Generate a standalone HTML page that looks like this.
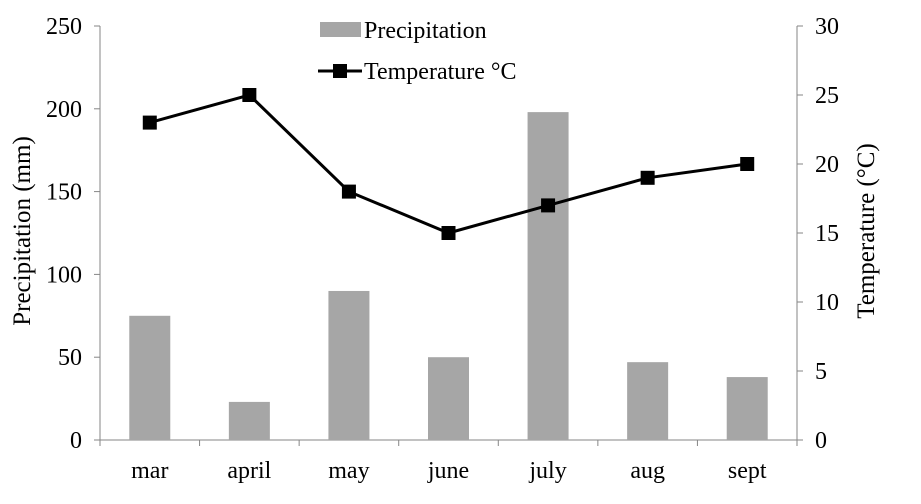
<!DOCTYPE html>
<html><head><meta charset="utf-8"><style>
body{margin:0;background:#fff}
svg text{font-family:"Liberation Serif",serif;fill:#000}
</style></head><body>
<svg id="chart" width="921" height="499" xmlns="http://www.w3.org/2000/svg">
<g id="axes"></g><g id="bars"></g><g id="line"></g>
<g>
<rect x="320" y="22" width="41" height="15" fill="#a6a6a6"/>
<text x="364" y="38" font-size="24">Precipitation</text>
<line x1="318" y1="71" x2="362" y2="71" stroke="#000" stroke-width="3"/>
<rect x="333" y="64" width="14" height="14" fill="#000"/>
<text x="364" y="79" font-size="24">Temperature °C</text>
</g>
<text transform="translate(30,231) rotate(-90)" text-anchor="middle" font-size="25">Precipitation (mm)</text>
<text transform="translate(874,231) rotate(-90)" text-anchor="middle" font-size="25">Temperature (°C)</text>
</svg>
<script>
const categories=["mar","april","may","june","july","aug","sept"];
const precipitation=[75,23,90,50,198,47,38];
const temperature=[23,25,18,15,17,19,20];
const leftTicks=[0,50,100,150,200,250];
const rightTicks=[0,5,10,15,20,25,30];
const NS="http://www.w3.org/2000/svg";
const X0=100,X1=797,Y0=440,Y1=26;
const step=(X1-X0)/categories.length;
const xc=i=>X0+step*(i+0.5);
const yL=v=>Y0-(v/250)*(Y0-Y1);
const yR=v=>Y0-(v/30)*(Y0-Y1);
function mk(p,tag,a){const e=document.createElementNS(NS,tag);for(const k in a)e.setAttribute(k,a[k]);p.appendChild(e);return e;}
const ax=document.getElementById('axes'),bg=document.getElementById('bars'),lg=document.getElementById('line');
let e;
e=mk(ax,'line',{x1:X0,y1:Y1,x2:X0,y2:Y0,stroke:'#868686'});


e=mk(ax,'line',{x1:X1,y1:Y1,x2:X1,y2:Y0,stroke:'#868686'});


e=mk(ax,'line',{x1:X0,y1:Y0,x2:X1,y2:Y0,stroke:'#868686'});


leftTicks.forEach(v=>{
 mk(ax,'line',{x1:X0-6,y1:yL(v),x2:X0,y2:yL(v),stroke:'#868686'});
 e=mk(ax,'text',{x:X0-18,y:yL(v)+8,'text-anchor':'end','font-size':24});
 e.textContent=v;
 
 
});
rightTicks.forEach(v=>{
 mk(ax,'line',{x1:X1,y1:yR(v),x2:X1+6,y2:yR(v),stroke:'#868686'});
 e=mk(ax,'text',{x:X1+18,y:yR(v)+8,'font-size':24});
 e.textContent=v;
 
 
});
categories.forEach((c,i)=>{
 mk(ax,'line',{x1:X0+step*i,y1:Y0,x2:X0+step*i,y2:Y0+6,stroke:'#868686'});
 e=mk(ax,'text',{x:xc(i),y:Y0+38,'text-anchor':'middle','font-size':24});
 e.textContent=c;
 
 
});
mk(ax,'line',{x1:X1,y1:Y0,x2:X1,y2:Y0+6,stroke:'#868686'});
precipitation.forEach((v,i)=>{
 e=mk(bg,'rect',{x:xc(i)-20.5,y:yL(v),width:41,height:Y0-yL(v),fill:'#a6a6a6'});
 
 
});
e=mk(lg,'polyline',{points:temperature.map((v,i)=>xc(i)+','+yR(v)).join(' '),fill:'none',stroke:'#000','stroke-width':3});


temperature.forEach((v,i)=>{
 e=mk(lg,'rect',{x:xc(i)-7,y:yR(v)-7,width:14,height:14,fill:'#000'});
 
 
});
</script>
</body></html>
